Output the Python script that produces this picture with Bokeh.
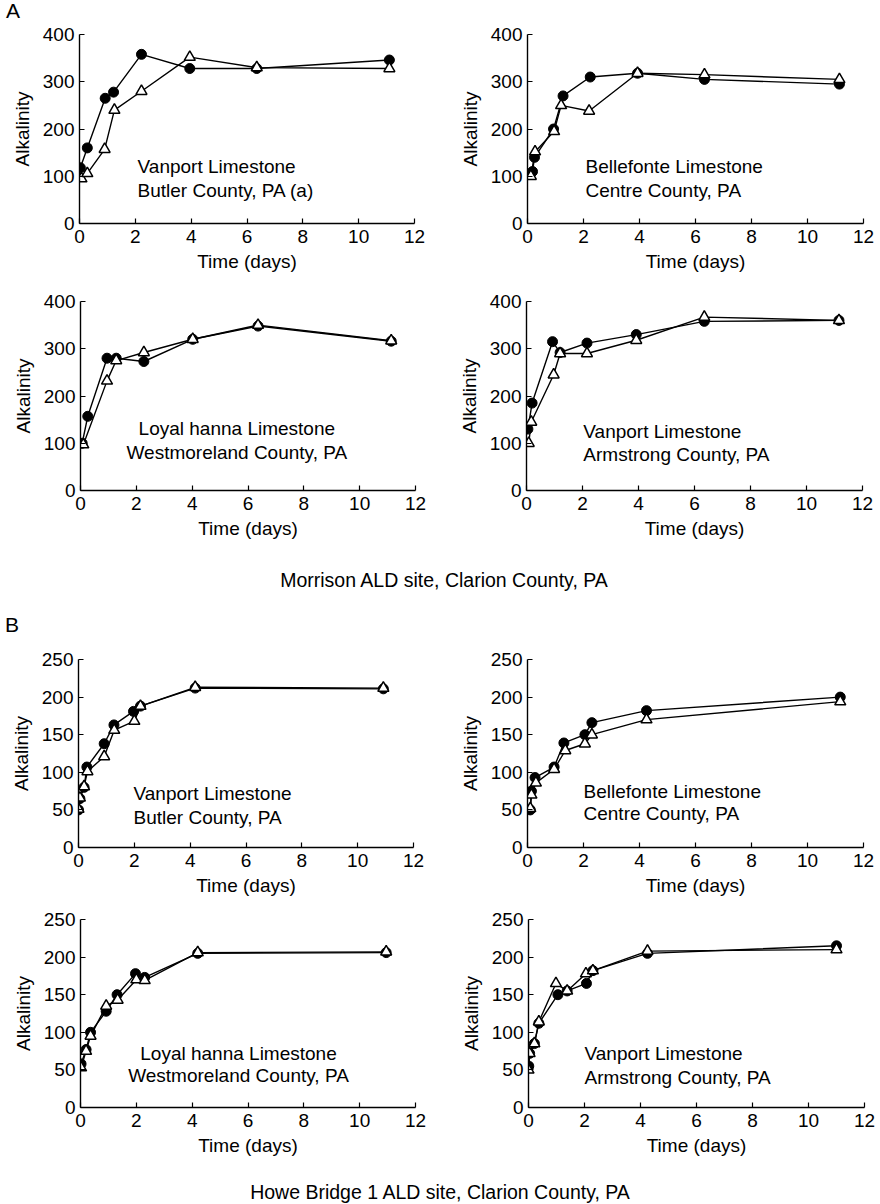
from bokeh.plotting import figure
from bokeh.layouts import column, row
from bokeh.models import Div, FixedTicker
from bokeh.core.properties import value
from bokeh.embed import file_html
from bokeh.resources import INLINE

# ---------------- data ----------------
# Panel A (Morrison ALD site)
a1_t_c = [0.03, 0.28, 0.92, 1.22, 2.22, 3.95, 6.35, 11.1]
a1_c = [118, 160, 265, 278, 358, 328, 328, 346]
a1_t_t = [0.07, 0.28, 0.9, 1.25, 2.22, 3.95, 6.35, 11.1]
a1_t = [95, 106, 157, 240, 280, 352, 330, 328]

a2_t_c = [0.18, 0.25, 0.93, 1.27, 2.24, 3.93, 6.32, 11.14]
a2_c = [110, 140, 200, 270, 310, 318, 305, 295]
a2_t_t = [0.12, 0.27, 0.95, 1.2, 2.2, 3.93, 6.32, 11.14]
a2_t = [100, 152, 195, 250, 238, 318, 315, 305]

a3_t_c = [0.06, 0.26, 0.95, 1.28, 2.27, 4.02, 6.36, 11.13]
a3_c = [100, 157, 280, 280, 273, 320, 348, 316]
a3_t_t = [0.1, 0.95, 1.28, 2.27, 4.02, 6.36, 11.13]
a3_t = [97, 232, 275, 292, 320, 350, 317]

a4_t_c = [0.05, 0.2, 0.93, 1.2, 2.16, 3.92, 6.35, 11.16]
a4_c = [130, 185, 315, 292, 312, 330, 358, 360]
a4_t_t = [0.08, 0.17, 0.97, 1.2, 2.16, 3.92, 6.35, 11.16]
a4_t = [100, 145, 245, 290, 290, 318, 367, 360]

# Panel B (Howe Bridge 1 ALD site)
b1_t_c = [0.0, 0.05, 0.2, 0.3, 0.92, 1.27, 1.97, 2.22, 4.18, 10.92]
b1_c = [50, 65, 80, 107, 138, 163, 181, 188, 212, 211]
b1_t_t = [0.0, 0.05, 0.2, 0.32, 0.92, 1.28, 2.0, 2.22, 4.18, 10.92]
b1_t = [51, 66, 81, 101, 121, 156, 168, 188, 213, 212]

b2_t_c = [0.1, 0.14, 0.27, 0.95, 1.3, 2.05, 2.3, 4.25, 11.17]
b2_c = [50, 75, 93, 107, 139, 150, 166, 182, 200]
b2_t_t = [0.1, 0.14, 0.3, 0.95, 1.35, 2.05, 2.3, 4.25, 11.17]
b2_t = [52, 70, 86, 104, 129, 138, 150, 170, 194]

b3_t_c = [0.02, 0.2, 0.36, 0.92, 1.31, 1.97, 2.3, 4.2, 10.95]
b3_c = [58, 77, 100, 128, 150, 178, 173, 205, 206]
b3_t_t = [0.02, 0.2, 0.36, 0.92, 1.33, 2.0, 2.3, 4.2, 10.95]
b3_t = [53, 75, 95, 135, 143, 170, 169, 206, 207]

b4_t_c = [0.01, 0.04, 0.21, 0.37, 1.05, 1.38, 2.07, 2.3, 4.25, 11.0]
b4_c = [55, 72, 85, 112, 150, 155, 165, 182, 205, 215]
b4_t_t = [0.0, 0.04, 0.21, 0.37, 0.98, 1.38, 2.05, 2.3, 4.25, 11.0]
b4_t = [50, 72, 85, 114, 165, 155, 178, 182, 208, 210]

x_ticks = [0, 2, 4, 6, 8, 10, 12]
a_y_ticks = [0, 100, 200, 300, 400]
b_y_ticks = [0, 50, 100, 150, 200, 250]

a_labels = [["Vanport Limestone", "Butler County, PA (a)"],
            ["Bellefonte Limestone", "Centre County, PA"],
            ["Loyal hanna Limestone", "Westmoreland County, PA"],
            ["Vanport Limestone", "Armstrong County, PA"]]
b_labels = [["Vanport Limestone", "Butler County, PA"],
            ["Bellefonte Limestone", "Centre County, PA"],
            ["Loyal hanna Limestone", "Westmoreland County, PA"],
            ["Vanport Limestone", "Armstrong County, PA"]]

caption_a = "Morrison ALD site, Clarion County, PA"
caption_b = "Howe Bridge 1 ALD site, Clarion County, PA"

FONT = "Liberation Sans"
FS = "19px"


def make_panel(tc, yc, tt, yt, ymax, yticks, label, lab_pos, align,
               left, height, top, bottom):
    frame_w = 335 if left < 85 else 336
    width = 440
    p = figure(width=width, height=height, x_range=(0, 12), y_range=(0, ymax),
               output_backend="svg", toolbar_location=None,
               min_border_left=left, min_border_right=width - left - frame_w,
               min_border_top=top, min_border_bottom=bottom)
    p.xgrid.visible = False
    p.ygrid.visible = False
    p.outline_line_color = None
    p.background_fill_color = "white"
    p.border_fill_color = "white"
    for ax in (p.xaxis[0], p.yaxis[0]):
        ax.major_tick_in = 5
        ax.major_tick_out = 0
        ax.minor_tick_line_color = None
        ax.axis_line_width = 1.4
        ax.major_tick_line_width = 1.2
        ax.axis_line_color = "black"
        ax.major_label_text_font = FONT
        ax.major_label_text_font_size = FS
        ax.major_label_text_color = "black"
        ax.axis_label_text_font = FONT
        ax.axis_label_text_font_size = FS
        ax.axis_label_text_font_style = "normal"
        ax.axis_label_text_color = "black"
    p.xaxis.ticker = FixedTicker(ticks=x_ticks)
    p.yaxis.ticker = FixedTicker(ticks=yticks)
    p.xaxis.axis_label = "Time (days)"
    p.yaxis.axis_label = "Alkalinity"
    p.xaxis.major_label_standoff = 6
    p.yaxis.major_label_standoff = 5
    p.xaxis.axis_label_standoff = 5
    p.yaxis.axis_label_standoff = 7

    p.line(tc, yc, line_color="black", line_width=1.4)
    p.line(tt, yt, line_color="black", line_width=1.4)
    p.scatter(tc, yc, marker="circle", size=10, fill_color="black",
              line_color="black")
    p.scatter(tt, yt, marker="triangle", size=11, fill_color="white",
              line_color="black", line_width=1.5)

    lx, ly1, ly2 = lab_pos
    p.text(x=[lx, lx], y=[ly1, ly2], text=label, text_font=value(FONT),
           text_font_size=FS, text_align=align, text_baseline="middle",
           text_color="black")
    return p


div_a = Div(text='<div style="font-family:Liberation Sans;font-size:21px;'
                 'color:black;padding-left:6px;line-height:22px;">A</div>',
            width=880, height=22, margin=(0, 0, 0, 0))

pa1 = make_panel(a1_t_c, a1_c, a1_t_t, a1_t, 400, a_y_ticks, a_labels[0],
                 (2.08, 120, 69), "left", 79, 258, 12, 57)
pa2 = make_panel(a2_t_c, a2_c, a2_t_t, a2_t, 400, a_y_ticks, a_labels[1],
                 (2.07, 120, 69), "left", 87, 258, 12, 57)
pa3 = make_panel(a3_t_c, a3_c, a3_t_t, a3_t, 400, a_y_ticks, a_labels[2],
                 (5.6, 131, 80), "center", 80, 270, 21, 60)
pa4 = make_panel(a4_t_c, a4_c, a4_t_t, a4_t, 400, a_y_ticks, a_labels[3],
                 (2.03, 125, 76), "left", 86, 270, 21, 60)

cap_a = Div(text='<div style="font-family:Liberation Sans;font-size:19.5px;'
                 'color:black;text-align:center;width:880px;padding-top:19px;'
                 'padding-left:8px;line-height:22px;">' + caption_a + '</div>',
            width=880, height=50, margin=(0, 0, 0, 0))

div_b = Div(text='<div style="font-family:Liberation Sans;font-size:21px;'
                 'color:black;padding-left:5px;padding-top:14px;'
                 'line-height:22px;">B</div>',
            width=880, height=40, margin=(0, 0, 0, 0))

pb1 = make_panel(b1_t_c, b1_c, b1_t_t, b1_t, 250, b_y_ticks, b_labels[0],
                 (1.97, 72, 40), "left", 78, 260, 19, 53)
pb2 = make_panel(b2_t_c, b2_c, b2_t_t, b2_t, 250, b_y_ticks, b_labels[1],
                 (2.0, 74, 45), "left", 87, 260, 19, 53)
pb3 = make_panel(b3_t_c, b3_c, b3_t_t, b3_t, 250, b_y_ticks, b_labels[2],
                 (5.66, 72, 43), "center", 80, 260, 19, 53)
pb4 = make_panel(b4_t_c, b4_c, b4_t_t, b4_t, 250, b_y_ticks, b_labels[3],
                 (2.0, 72, 40), "left", 88, 260, 19, 53)

cap_b = Div(text='<div style="font-family:Liberation Sans;font-size:19.5px;'
                 'color:black;text-align:center;width:880px;padding-top:21px;'
                 'line-height:22px;">' + caption_b + '</div>',
            width=880, height=44, margin=(0, 0, 0, 0))

layout = column(div_a, row(pa1, pa2), row(pa3, pa4), cap_a, div_b,
                row(pb1, pb2), row(pb3, pb4), cap_b, spacing=0)

open("out.html", "w").write(file_html(layout, INLINE))
